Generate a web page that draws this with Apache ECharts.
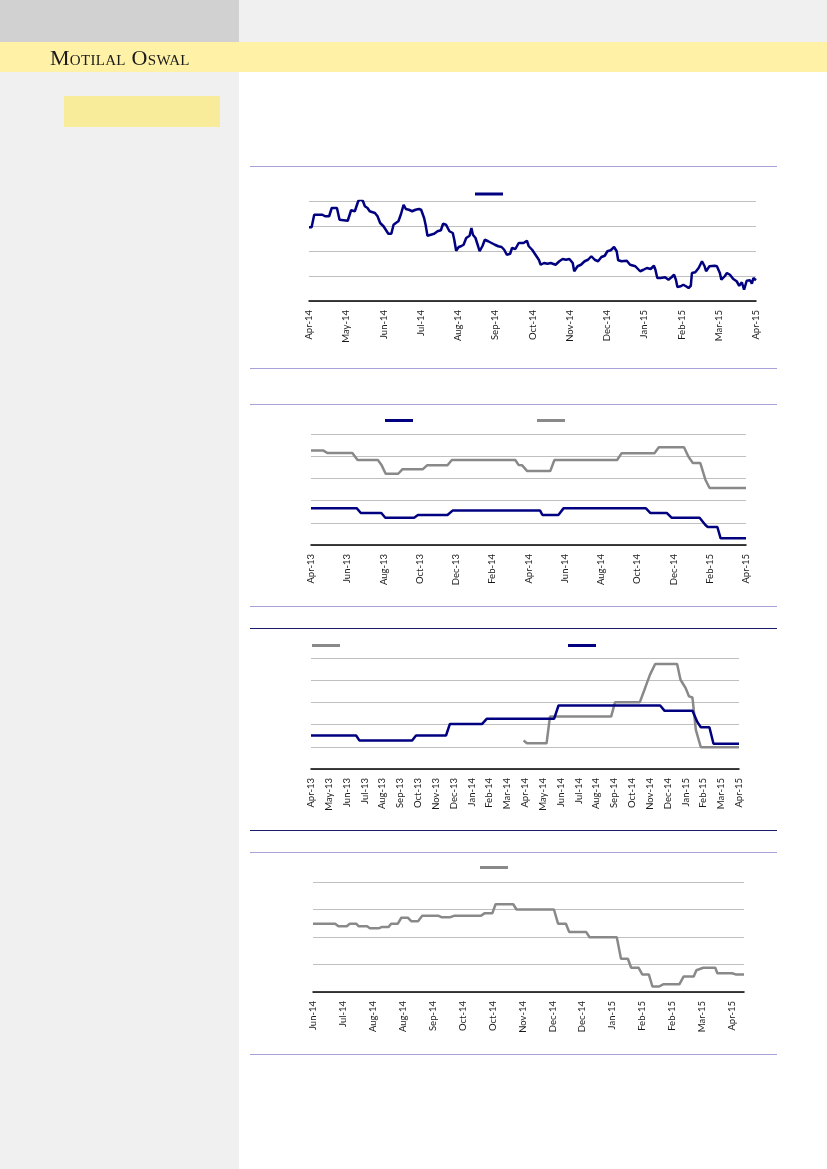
<!DOCTYPE html>
<html>
<head>
<meta charset="utf-8">
<script src="https://cdn.jsdelivr.net/npm/echarts@6/dist/echarts.min.js"></script>
<style>
html,body{margin:0;padding:0;background:#fff;}
#page{position:relative;width:827px;height:1169px;overflow:hidden;background:#fff;}
.blk{position:absolute;}
#chart{position:absolute;left:0;top:0;width:827px;height:1169px;}
#brand{position:absolute;left:50px;top:47px;font-family:"Liberation Serif","DejaVu Serif",serif;font-size:22px;line-height:22px;font-variant:small-caps;color:#1a1a1a;letter-spacing:0.3px;white-space:nowrap;z-index:5;}
</style>
</head>
<body>
<div id="page">
  <div class="blk" style="left:0;top:0;width:239px;height:42px;background:#d1d1d1"></div>
  <div class="blk" style="left:239px;top:0;width:588px;height:42px;background:#f0f0f0"></div>
  <div class="blk" style="left:0;top:42px;width:827px;height:30px;background:#fff1a6"></div>
  <div class="blk" style="left:0;top:72px;width:239px;height:1097px;background:#f0f0f0"></div>
  <div class="blk" style="left:64px;top:96px;width:156px;height:31px;background:#f8eb99"></div>
  <div class="blk" style="left:250px;top:166px;width:527px;height:1px;background:#a6a2d9"></div>
  <div class="blk" style="left:250px;top:368px;width:527px;height:1px;background:#a6a2d9"></div>
  <div class="blk" style="left:250px;top:404px;width:527px;height:1px;background:#a6a2d9"></div>
  <div class="blk" style="left:250px;top:606px;width:527px;height:1px;background:#a6a2d9"></div>
  <div class="blk" style="left:250px;top:628px;width:527px;height:1px;background:#1b1b6b"></div>
  <div class="blk" style="left:250px;top:830px;width:527px;height:1px;background:#1b1b6b"></div>
  <div class="blk" style="left:250px;top:852px;width:527px;height:1px;background:#a6a2d9"></div>
  <div class="blk" style="left:250px;top:1054px;width:527px;height:1px;background:#a6a2d9"></div>
  <div id="brand">Motilal Oswal</div>
  <div id="chart"></div>
</div>
<script>
// ---- Tick labels ----
const labels1 = ['Apr-14','May-14','Jun-14','Jul-14','Aug-14','Sep-14','Oct-14','Nov-14','Dec-14','Jan-15','Feb-15','Mar-15','Apr-15'];
const labels2 = ['Apr-13','Jun-13','Aug-13','Oct-13','Dec-13','Feb-14','Apr-14','Jun-14','Aug-14','Oct-14','Dec-14','Feb-15','Apr-15'];
const labels3 = ['Apr-13','May-13','Jun-13','Jul-13','Aug-13','Sep-13','Oct-13','Nov-13','Dec-13','Jan-14','Feb-14','Mar-14','Apr-14','May-14','Jun-14','Jul-14','Aug-14','Sep-14','Oct-14','Nov-14','Dec-14','Jan-15','Feb-15','Mar-15','Apr-15'];
const labels4 = ['Jun-14','Jul-14','Aug-14','Aug-14','Sep-14','Oct-14','Oct-14','Nov-14','Dec-14','Dec-14','Jan-15','Feb-15','Feb-15','Mar-15','Apr-15'];

// ---- Chart 1 (x in months from Apr-14, y in gridline units) ----
const c1x = [0.00,0.07,0.14,0.36,0.43,0.54,0.61,0.75,0.82,1.04,1.13,1.23,1.32,1.39,1.45,1.50,1.57,1.63,1.77,1.84,1.91,2.00,2.04,2.13,2.21,2.27,2.33,2.40,2.47,2.54,2.60,2.68,2.77,2.86,2.95,3.01,3.09,3.13,3.18,3.27,3.36,3.45,3.54,3.60,3.68,3.77,3.86,3.90,3.95,4.02,4.08,4.15,4.22,4.31,4.36,4.40,4.47,4.54,4.58,4.66,4.72,4.81,4.90,4.99,5.08,5.17,5.24,5.31,5.35,5.40,5.45,5.54,5.63,5.67,5.76,5.85,5.90,5.99,6.08,6.17,6.22,6.31,6.40,6.49,6.62,6.72,6.81,6.90,6.99,7.08,7.12,7.21,7.30,7.40,7.49,7.58,7.67,7.76,7.85,7.94,8.01,8.10,8.19,8.26,8.30,8.39,8.53,8.62,8.76,8.89,8.98,9.07,9.17,9.26,9.30,9.35,9.44,9.56,9.65,9.74,9.80,9.85,9.89,9.98,10.05,10.12,10.19,10.25,10.28,10.37,10.46,10.55,10.62,10.66,10.75,10.89,10.95,11.03,11.07,11.16,11.22,11.30,11.39,11.48,11.55,11.62,11.68,11.75,11.84,11.89,11.93,12.00];
const c1y = [2.95,2.95,3.45,3.45,3.39,3.39,3.72,3.72,3.25,3.21,3.63,3.59,3.99,4.08,3.99,3.79,3.72,3.59,3.52,3.39,3.12,2.99,2.92,2.69,2.69,3.05,3.12,3.19,3.48,3.85,3.68,3.65,3.59,3.65,3.68,3.65,3.32,3.05,2.61,2.65,2.69,2.79,2.83,3.09,3.05,2.79,2.72,2.45,2.01,2.16,2.19,2.25,2.52,2.61,2.92,2.65,2.52,2.19,1.99,2.21,2.45,2.39,2.32,2.25,2.19,2.16,2.05,1.85,1.79,1.89,2.12,2.08,2.32,2.39,2.32,2.41,2.19,2.05,1.85,1.65,1.45,1.52,1.49,1.52,1.45,1.59,1.68,1.65,1.68,1.52,1.19,1.39,1.45,1.59,1.65,1.79,1.65,1.59,1.76,1.81,1.99,2.03,2.16,1.99,1.63,1.59,1.61,1.45,1.39,1.19,1.25,1.32,1.28,1.41,1.25,0.92,0.92,0.95,0.85,0.96,1.05,0.85,0.56,0.59,0.65,0.59,0.52,0.61,1.12,1.15,1.32,1.59,1.39,1.19,1.39,1.41,1.39,1.12,0.85,0.99,1.12,1.05,0.88,0.79,0.61,0.75,0.45,0.81,0.83,0.69,0.92,0.83];

// ---- Chart 2 (x in months from Apr-13) ----
const c2xGray = [0,0.66,0.92,2.28,2.57,3.69,3.88,4.12,4.81,5.04,6.16,6.40,7.53,7.77,11.27,11.46,11.65,11.93,13.20,13.43,16.89,17.13,18.95,19.19,20.58,20.82,21.07,21.48,21.76,21.99,24];
const c2yGray = [4.26,4.26,4.14,4.14,3.83,3.83,3.62,3.21,3.21,3.41,3.41,3.59,3.59,3.83,3.83,3.60,3.59,3.33,3.33,3.83,3.83,4.13,4.13,4.40,4.40,3.99,3.69,3.69,2.94,2.57,2.57];
const c2xNavy = [0,2.53,2.75,3.88,4.10,5.69,5.90,7.53,7.81,12.64,12.77,13.65,13.93,18.48,18.73,19.64,19.89,21.44,21.76,21.89,22.42,22.60,24];
const c2yNavy = [1.65,1.65,1.44,1.44,1.23,1.23,1.35,1.35,1.55,1.55,1.35,1.35,1.65,1.65,1.44,1.44,1.23,1.23,0.90,0.81,0.81,0.30,0.30];

// ---- Chart 3 (x in months from Apr-13) ----
const c3xGray = [11.92,12.11,13.21,13.40,16.83,17.05,18.44,18.73,19.01,19.30,20.53,20.72,21.01,21.20,21.39,21.58,21.86,24];
const c3yGray = [1.28,1.16,1.16,2.36,2.36,3.01,3.01,3.64,4.25,4.73,4.73,4.02,3.64,3.27,3.22,1.76,0.98,0.98];
const c3xNavy = [0,2.53,2.72,5.67,5.89,7.57,7.79,9.60,9.85,13.63,13.88,19.58,19.83,21.39,21.67,21.86,22.34,22.57,24];
const c3yNavy = [1.51,1.51,1.28,1.28,1.51,1.51,2.03,2.03,2.26,2.26,2.86,2.86,2.62,2.62,2.11,1.88,1.88,1.14,1.14];

// ---- Chart 4 (x in label steps from Jun-14) ----
const c4x = [0,0.74,0.85,1.13,1.22,1.45,1.53,1.81,1.90,2.21,2.29,2.52,2.61,2.83,2.95,3.17,3.29,3.51,3.65,4.20,4.29,4.59,4.71,5.61,5.73,5.99,6.10,6.69,6.80,8.05,8.19,8.45,8.56,9.13,9.24,10.15,10.29,10.52,10.63,10.88,11.00,11.22,11.34,11.56,11.70,12.24,12.38,12.72,12.81,13.04,13.44,13.51,14.00,14.12,14.40];
const c4y = [2.48,2.48,2.39,2.39,2.48,2.48,2.39,2.39,2.32,2.32,2.36,2.36,2.48,2.48,2.70,2.70,2.57,2.57,2.77,2.77,2.72,2.72,2.77,2.77,2.86,2.86,3.19,3.19,3.00,3.00,2.48,2.48,2.18,2.18,1.99,1.99,1.21,1.21,0.88,0.88,0.64,0.64,0.20,0.20,0.28,0.28,0.56,0.56,0.79,0.88,0.88,0.68,0.68,0.64,0.64];

const NAVY = '#000080', GRAY = '#898989', GRID = '#c0c0c0';
const FONT = 'Lato';
const zip = (xs, ys) => xs.map((x, i) => [x, ys[i]]);

function xAxis(gi, max, interval, labels) {
  return {
    type: 'value', gridIndex: gi, min: 0, max: max, interval: interval,
    axisLine: { show: true, lineStyle: { color: '#000', width: 1.5 } },
    axisTick: { show: false },
    splitLine: { show: false },
    axisLabel: {
      rotate: 90, margin: 9, fontFamily: FONT, fontSize: 9.5, color: '#1a1a1a',
      showMaxLabel: true,
      formatter: function (v) {
        const i = Math.round(v / interval);
        return Math.abs(v - i * interval) < 1e-6 && labels[i] !== undefined ? labels[i] : '';
      }
    }
  };
}
function yAxis(gi, max) {
  return {
    type: 'value', gridIndex: gi, min: 0, max: max, interval: 1,
    axisLine: { show: false }, axisTick: { show: false }, axisLabel: { show: false },
    splitLine: { show: true, lineStyle: { color: GRID, width: 1 } }
  };
}
function line(name, gi, data, color) {
  return {
    name: name, type: 'line', xAxisIndex: gi, yAxisIndex: gi, data: data,
    showSymbol: false, symbol: 'none', color: color, itemStyle: { color: color },
    lineStyle: { color: color, width: 2.5 }, animation: false, z: 3
  };
}
function legend(name, left, top) {
  return {
    data: [name], left: left, top: top, padding: 0, itemWidth: 28, itemHeight: 3,
    icon: 'rect', formatter: function () { return ''; }, selectedMode: false,
    textStyle: { fontSize: 1 }
  };
}

const chart = echarts.init(document.getElementById('chart'), null, { renderer: 'canvas' });
chart.setOption({
  backgroundColor: 'transparent',
  animation: false,
  grid: [
    { left: 309, top: 201, width: 447, height: 100 },
    { left: 311, top: 434, width: 435, height: 111 },
    { left: 311, top: 658, width: 428, height: 111 },
    { left: 313, top: 882, width: 431, height: 110 }
  ],
  xAxis: [
    xAxis(0, 12, 1, labels1),
    xAxis(1, 24, 2, labels2),
    xAxis(2, 24, 1, labels3),
    xAxis(3, 14.4, 1, labels4)
  ],
  yAxis: [yAxis(0, 4), yAxis(1, 5), yAxis(2, 5), yAxis(3, 4)],
  legend: [
    legend('Series 1', 475, 192.5),
    legend('Series 2A', 385, 419),
    legend('Series 2B', 537, 419),
    legend('Series 3A', 312, 644),
    legend('Series 3B', 568, 644),
    legend('Series 4', 480, 866)
  ],
  series: [
    line('Series 1', 0, zip(c1x, c1y), NAVY),
    line('Series 2B', 1, zip(c2xGray, c2yGray), GRAY),
    line('Series 2A', 1, zip(c2xNavy, c2yNavy), NAVY),
    line('Series 3A', 2, zip(c3xGray, c3yGray), GRAY),
    line('Series 3B', 2, zip(c3xNavy, c3yNavy), NAVY),
    line('Series 4', 3, zip(c4x, c4y), GRAY)
  ]
});
</script>
</body>
</html>
